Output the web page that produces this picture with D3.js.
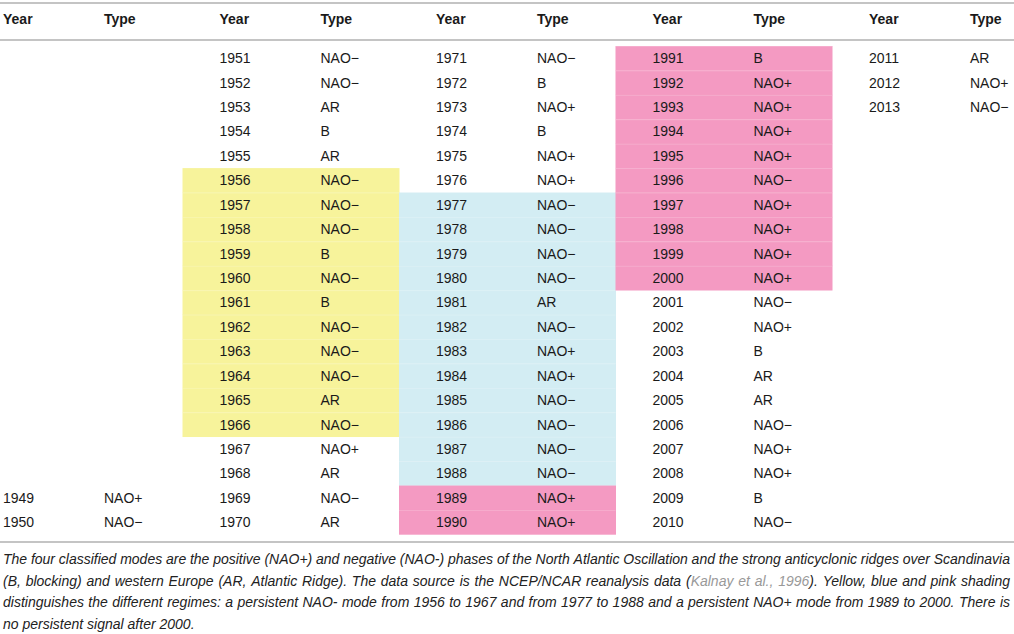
<!DOCTYPE html>
<html>
<head>
<meta charset="utf-8">
<script src="https://cdn.jsdelivr.net/npm/d3@7"></script>
<style>
  html, body { margin: 0; padding: 0; background: #fff; }
  svg { display: block; }
</style>
</head>
<body>
<svg id="chart" width="1014" height="634"></svg>
<script>
// ---- data ----
const headers = ["Year", "Type"];
const years = [1949, 1950,
  1951, 1952, 1953, 1954, 1955, 1956, 1957, 1958, 1959, 1960,
  1961, 1962, 1963, 1964, 1965, 1966, 1967, 1968, 1969, 1970,
  1971, 1972, 1973, 1974, 1975, 1976, 1977, 1978, 1979, 1980,
  1981, 1982, 1983, 1984, 1985, 1986, 1987, 1988, 1989, 1990,
  1991, 1992, 1993, 1994, 1995, 1996, 1997, 1998, 1999, 2000,
  2001, 2002, 2003, 2004, 2005, 2006, 2007, 2008, 2009, 2010,
  2011, 2012, 2013];
const types = ["NAO+", "NAO−",
  "NAO−", "NAO−", "AR", "B", "AR", "NAO−", "NAO−", "NAO−", "B", "NAO−",
  "B", "NAO−", "NAO−", "NAO−", "AR", "NAO−", "NAO+", "AR", "NAO−", "AR",
  "NAO−", "B", "NAO+", "B", "NAO+", "NAO+", "NAO−", "NAO−", "NAO−", "NAO−",
  "AR", "NAO−", "NAO+", "NAO+", "NAO−", "NAO−", "NAO−", "NAO−", "NAO+", "NAO+",
  "B", "NAO+", "NAO+", "NAO+", "NAO+", "NAO−", "NAO+", "NAO+", "NAO+", "NAO+",
  "NAO−", "NAO+", "B", "AR", "AR", "NAO−", "NAO+", "NAO+", "B", "NAO−",
  "AR", "NAO+", "NAO−"];
const regimeStart = [1956, 1977, 1989];
const regimeEnd   = [1966, 1988, 2000];
const regimeColor = ["#f7f39b", "#d3edf3", "#f49ac2"];
const captionLines = [
  "The four classified modes are the positive (NAO+) and negative (NAO-) phases of the North Atlantic Oscillation and the strong anticyclonic ridges over Scandinavia",
  "(B, blocking) and western Europe (AR, Atlantic Ridge). The data source is the NCEP/NCAR reanalysis data (Kalnay et al., 1996). Yellow, blue and pink shading",
  "distinguishes the different regimes: a persistent NAO- mode from 1956 to 1967 and from 1977 to 1988 and a persistent NAO+ mode from 1989 to 2000. There is",
  "no persistent signal after 2000."
];
const citeWords = ["(Kalnay", "et", "al.,", "1996)."];

// ---- layout ----
const svg = d3.select("#chart");
const font = "'Liberation Sans', Arial, Helvetica, sans-serif";
const W = 1014;
const nCols = 5, nRows = 20, firstYear = 1951;

const colX = d3.scaleLinear().domain([0, nCols - 1]).range([3, 869]);   // Year text x
const typeOffset = 101;
const rowY = d3.scaleBand().domain(d3.range(nRows)).range([46, 534.4]).padding(0);

const cells = years.map((y, i) => {
  const k = y - firstYear;
  const col = Math.floor(k / nRows) + 1;
  const row = ((k % nRows) + nRows) % nRows;
  return { year: y, type: types[i], col, row };
});

// shading
const shade = svg.append("g");
regimeStart.forEach((s, r) => {
  const sel = cells.filter(c => c.year >= s && c.year <= regimeEnd[r]);
  shade.selectAll(null).data(sel).enter().append("rect")
    .attr("x", c => colX(c.col) - 37)
    .attr("y", c => rowY(c.row))
    .attr("width", colX(1) - colX(0) + 0.5)
    .attr("height", rowY.bandwidth() + 0.3)
    .attr("fill", regimeColor[r]);
  shade.selectAll(null).data(sel.slice(1)).enter().append("line")
    .attr("x1", c => colX(c.col) - 37)
    .attr("x2", c => colX(c.col) - 37 + colX(1) - colX(0))
    .attr("y1", c => rowY(c.row) + 0.5)
    .attr("y2", c => rowY(c.row) + 0.5)
    .attr("stroke", "#fff").attr("stroke-opacity", 0.18).attr("stroke-width", 1);
});

// rules
[3, 40, 542].forEach(y => {
  svg.append("line").attr("x1", 0).attr("x2", W).attr("y1", y).attr("y2", y)
    .attr("stroke", "#b0b0b0").attr("stroke-width", 1.6);
});

// headers
const hdr = svg.append("g").attr("font-family", font).attr("font-size", 14)
  .attr("font-weight", "bold").attr("fill", "#1a1a1a");
d3.range(nCols).forEach(c => {
  hdr.append("text").attr("x", colX(c)).attr("y", 24).text(headers[0]);
  hdr.append("text").attr("x", colX(c) + typeOffset).attr("y", 24).text(headers[1]);
});

// body cells
const body = svg.append("g").attr("font-family", font).attr("font-size", 14).attr("fill", "#1a1a1a");
body.selectAll("text.yr").data(cells).enter().append("text").attr("class", "yr")
  .attr("x", c => colX(c.col))
  .attr("y", c => rowY(c.row) + rowY.bandwidth() / 2 + 5)
  .text(c => c.year);
body.selectAll("text.ty").data(cells).enter().append("text").attr("class", "ty")
  .attr("x", c => colX(c.col) + typeOffset)
  .attr("y", c => rowY(c.row) + rowY.bandwidth() / 2 + 5)
  .text(c => c.type);

// caption (justified word by word)
const cap = svg.append("g").attr("font-family", font).attr("font-size", 14)
  .attr("font-style", "italic").attr("fill", "#222");
const capLeft = 3, capRight = 1010, capBase = 564, capStep = 21.6;
captionLines.forEach((line, li) => {
  const words = line.split(" ");
  const y = capBase + li * capStep;
  const nodes = words.map(w => cap.append("text").attr("y", y).text(w)
    .attr("fill", citeWords.includes(w) ? "#999" : "#222"));
  const widths = nodes.map(n => n.node().getComputedTextLength());
  const total = d3.sum(widths);
  const justify = li < captionLines.length - 1;
  const space = justify ? (capRight - capLeft - total) / (words.length - 1) : 3.9;
  let x = capLeft;
  nodes.forEach((n, i) => { n.attr("x", x); x += widths[i] + space; });
});
// keep the punctuation around the citation dark
cap.selectAll("text").filter(function () { return d3.select(this).text() === "1996)."; })
  .text(null).call(t => {
    t.append("tspan").attr("fill", "#999").text("1996");
    t.append("tspan").attr("fill", "#222").text(").");
  });
cap.selectAll("text").filter(function () { return d3.select(this).text() === "(Kalnay"; })
  .text(null).call(t => {
    t.append("tspan").attr("fill", "#222").text("(");
    t.append("tspan").attr("fill", "#999").text("Kalnay");
  });
</script>
</body>
</html>
